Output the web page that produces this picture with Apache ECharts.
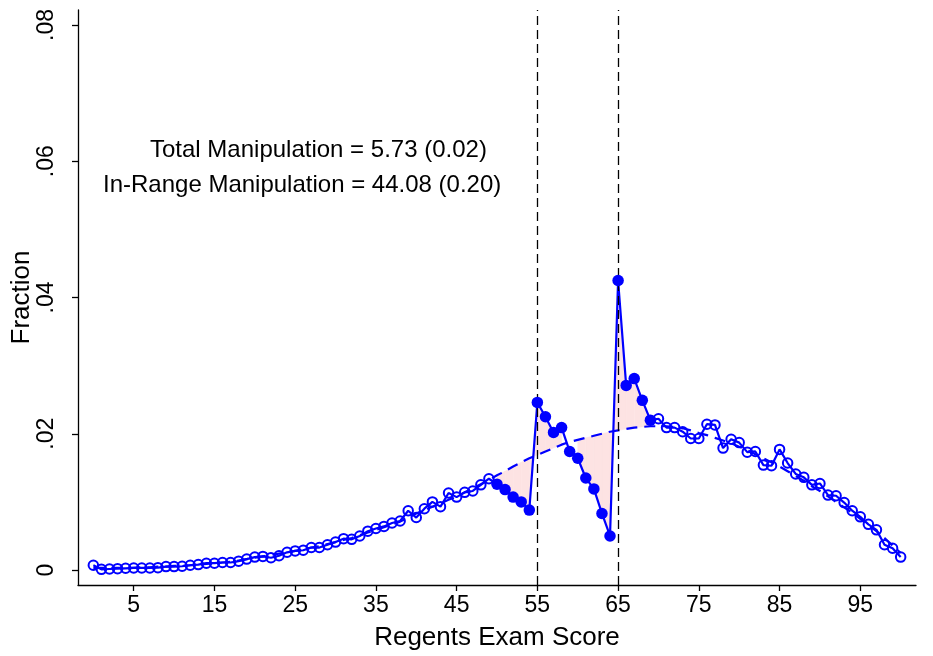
<!DOCTYPE html>
<html>
<head>
<meta charset="utf-8">
<script src="https://cdn.jsdelivr.net/npm/echarts@6/dist/echarts.min.js"></script>
<style>
html,body{margin:0;padding:0;background:#fff;}
#chart{width:933px;height:656px;}
</style>
</head>
<body>
<div id="chart"></div>
<script>
// Regents exam scores (x)
var scores = [0,1,2,3,4,5,6,7,8,9,10,11,12,13,14,15,16,17,18,19,20,21,22,23,24,25,26,27,28,29,30,31,32,33,34,35,36,37,38,39,40,41,42,43,44,45,46,47,48,49,50,51,52,53,54,55,56,57,58,59,60,61,62,63,64,65,66,67,68,69,70,71,72,73,74,75,76,77,78,79,80,81,82,83,84,85,86,87,88,89,90,91,92,93,94,95,96,97,98,99,100];
// Observed fraction of students at each score
var fraction = [0.0007,0.0001,0.00015,0.0002,0.00025,0.0003,0.0003,0.0003,0.00035,0.0005,0.0005,0.00055,0.0007,0.0008,0.0010,0.0010,0.0011,0.0011,0.0013,0.0016,0.0019,0.0020,0.0018,0.0021,0.0026,0.0028,0.0029,0.0033,0.0033,0.0037,0.0041,0.0046,0.0045,0.0050,0.0057,0.0061,0.0064,0.0069,0.0072,0.0087,0.0077,0.0090,0.0100,0.0093,0.0113,0.0107,0.0114,0.0116,0.0125,0.0134,0.0126,0.0118,0.0107,0.0100,0.0088,0.0246,0.0225,0.0202,0.0209,0.0174,0.0164,0.0135,0.0119,0.0083,0.0050,0.0425,0.0271,0.0281,0.0249,0.0220,0.0222,0.0209,0.0209,0.0203,0.0193,0.0193,0.0214,0.0213,0.0179,0.0192,0.0187,0.0173,0.0174,0.0154,0.0153,0.0177,0.0157,0.0141,0.0136,0.0125,0.0127,0.0110,0.0109,0.0099,0.0087,0.0078,0.0067,0.0059,0.0037,0.0032,0.0019];
// Counterfactual (fitted) distribution
var fitted = [0.0003,0.0003,0.0003,0.0003,0.0003,0.0003,0.0004,0.0004,0.0005,0.0005,0.0006,0.0006,0.0007,0.0008,0.0009,0.0010,0.0011,0.0012,0.0014,0.0016,0.0018,0.0020,0.0022,0.0024,0.0026,0.0028,0.0030,0.0033,0.0035,0.0038,0.0041,0.0044,0.0047,0.0051,0.0055,0.0059,0.0063,0.0067,0.0071,0.0077,0.0083,0.0088,0.0093,0.0098,0.0103,0.0108,0.0114,0.0120,0.0126,0.0132,0.0139,0.0145,0.0152,0.0158,0.0164,0.0169,0.0174,0.0179,0.0184,0.0188,0.0191,0.0194,0.0197,0.0200,0.0203,0.0205,0.0207,0.0209,0.0210,0.0211,0.0211,0.0211,0.0210,0.0208,0.0205,0.0201,0.0198,0.0194,0.0190,0.0186,0.0181,0.0176,0.0170,0.0164,0.0158,0.0152,0.0145,0.0138,0.0131,0.0123,0.0116,0.0108,0.0100,0.0092,0.0084,0.0075,0.0066,0.0057,0.0047,0.0036,0.0025];
// Manipulation region (filled markers) and shaded ranges
var manipRange = [50, 69];
var shadeRanges = [[50, 58], [60, 69]];
var cutoffs = [55, 65];
var xTicks = [5,15,25,35,45,55,65,75,85,95];
var yTicks = [0, 0.02, 0.04, 0.06, 0.08];
var yTickLabels = ['0', '.02', '.04', '.06', '.08'];
var annotations = ['Total Manipulation = 5.73 (0.02)', 'In-Range Manipulation = 44.08 (0.20)'];

var FONT = '"Liberation Sans", Arial, Helvetica, sans-serif';
var BLUE = '#0000ff';

var lineData = scores.map(function(s, i){ return [s, fraction[i]]; });
var fitData = scores.map(function(s, i){ return [s, fitted[i]]; });
var hollowData = [], filledData = [];
scores.forEach(function(s, i){
  if (s >= manipRange[0] && s <= manipRange[1]) filledData.push([s, fraction[i]]);
  else hollowData.push([s, fraction[i]]);
});
var shadeSegs = [];
shadeRanges.forEach(function(r){
  for (var i = 0; i < scores.length - 1; i++) {
    if (scores[i] >= r[0] && scores[i + 1] <= r[1]) {
      shadeSegs.push([scores[i], fraction[i], fitted[i], scores[i + 1], fraction[i + 1], fitted[i + 1]]);
    }
  }
});

var chart = echarts.init(document.getElementById('chart'), null, {renderer: 'canvas'});
chart.setOption({
  animation: false,
  backgroundColor: '#fff',
  grid: {left: 78, right: 17, top: 10, bottom: 71, containLabel: false, outerBoundsMode: 'none'},
  xAxis: {
    type: 'value', min: -1.9, max: 101.9,
    name: 'Regents Exam Score', nameLocation: 'middle', nameGap: 40, nameMoveOverlap: false,
    nameTextStyle: {fontFamily: FONT, fontSize: 26, color: '#000'},
    axisLine: {show: true, onZero: false, lineStyle: {color: '#000', width: 1.3}},
    axisTick: {show: true, length: 6, customValues: xTicks, lineStyle: {color: '#000', width: 1.3}},
    axisLabel: {customValues: xTicks, fontFamily: FONT, fontSize: 23, color: '#000', margin: 9},
    splitLine: {show: false}
  },
  yAxis: {
    type: 'value', min: -0.0022, max: 0.0822,
    name: 'Fraction', nameLocation: 'middle', nameGap: 43, nameRotate: 90, nameMoveOverlap: false,
    nameTextStyle: {fontFamily: FONT, fontSize: 26, color: '#000'},
    axisLine: {show: true, onZero: false, lineStyle: {color: '#000', width: 1.3}},
    axisTick: {show: true, length: 6, customValues: yTicks, lineStyle: {color: '#000', width: 1.3}},
    axisLabel: {
      customValues: yTicks, rotate: 90, fontFamily: FONT, fontSize: 23, color: '#000', margin: 20,
      formatter: function(v){
        for (var k = 0; k < yTicks.length; k++) if (Math.abs(v - yTicks[k]) < 1e-9) return yTickLabels[k];
        return '';
      }
    },
    splitLine: {show: false}
  },
  graphic: [
    {type: 'text', left: 150, top: 138, style: {text: annotations[0], font: '24px ' + FONT, fill: '#000'}},
    {type: 'text', left: 103, top: 173, style: {text: annotations[1], font: '24px ' + FONT, fill: '#000'}}
  ],
  series: [
    {
      type: 'custom', z: 1, silent: true,
      data: shadeSegs,
      encode: {x: [0, 3], y: [1, 2, 4, 5]},
      renderItem: function(params, api){
        var a = api.coord([api.value(0), api.value(1)]);
        var b = api.coord([api.value(3), api.value(4)]);
        var c = api.coord([api.value(3), api.value(5)]);
        var d = api.coord([api.value(0), api.value(2)]);
        return {type: 'polygon', shape: {points: [a, b, c, d]}, style: {fill: '#fde3e3', stroke: '#fde3e3', lineWidth: 0.5}};
      }
    },
    {
      type: 'line', z: 2, silent: true, data: fitData, showSymbol: false, symbol: 'none',
      lineStyle: {color: BLUE, width: 2.2, type: [11, 7]},
      markLine: {
        silent: true, symbol: 'none', label: {show: false},
        lineStyle: {color: '#000', width: 1.3, type: [9, 5]},
        data: cutoffs.map(function(c){ return {xAxis: c}; })
      }
    },
    {
      type: 'line', z: 3, silent: true, data: lineData, showSymbol: false, symbol: 'none',
      lineStyle: {color: BLUE, width: 2.2}
    },
    {
      type: 'scatter', z: 4, silent: true, data: hollowData, symbol: 'circle', symbolSize: 9.5,
      itemStyle: {color: 'rgba(0,0,0,0)', borderColor: BLUE, borderWidth: 2, opacity: 1}
    },
    {
      type: 'scatter', z: 5, silent: true, data: filledData, symbol: 'circle', symbolSize: 11.5,
      itemStyle: {color: BLUE, opacity: 1}
    }
  ]
});
</script>
</body>
</html>
